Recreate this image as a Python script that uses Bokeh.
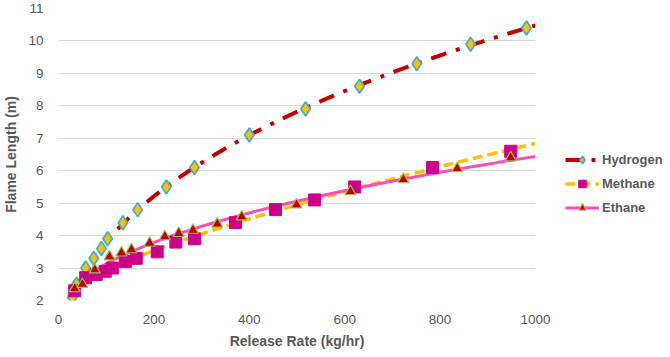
import numpy as np
from bokeh.plotting import figure
from bokeh.models import Legend, LegendItem, FixedTicker
from bokeh.embed import file_html
from bokeh.resources import INLINE

# Data
h_x = [29, 38, 57, 74, 90, 103, 135, 166, 226, 285, 400, 518, 631, 751, 864, 981]
h_y = [2.1, 2.5, 3.0, 3.3, 3.6, 3.9, 4.4, 4.8, 5.5, 6.1, 7.1, 7.9, 8.6, 9.3, 9.9, 10.4]

m_x = [34, 57, 79, 98, 113, 140, 163, 207, 246, 285, 371, 455, 537, 621, 784, 948]
m_y = [2.3, 2.7, 2.8, 2.9, 3.0, 3.2, 3.3, 3.5, 3.8, 3.9, 4.4, 4.8, 5.1, 5.5, 6.1, 6.6]

e_x = [34, 50, 76, 107, 132, 153, 191, 223, 252, 282, 333, 384, 499, 612, 723, 836, 948]
e_y = [2.37, 2.5, 2.95, 3.35, 3.47, 3.57, 3.77, 3.97, 4.07, 4.17, 4.36, 4.58, 4.95, 5.36, 5.73, 6.07, 6.4]

x_ticks = [0, 200, 400, 600, 800, 1000]
y_ticks = [2, 3, 4, 5, 6, 7, 8, 9, 10, 11]
X_MAX = 1000
H_TREND_START = 124   # hydrogen trend curve begins here in the reference


def trend(xs, ys, x_start, x_end, deg=2):
    """Least-squares trend curve: polynomial in sqrt(x)."""
    coef = np.polyfit(np.sqrt(xs), ys, deg)
    xt = np.linspace(x_start, x_end, 300)
    return xt, np.polyval(coef, np.sqrt(xt))


FONT = "Liberation Sans"
GREY = "#595959"

p = figure(frame_width=477, frame_height=292, output_backend="svg",
           toolbar_location=None, x_range=(0, 1000), y_range=(2, 11),
           min_border_left=45, min_border_top=8, min_border_bottom=41,
           min_border_right=132)
p.outline_line_color = None
p.background_fill_color = "white"

hx, hy = trend(h_x, h_y, H_TREND_START, X_MAX)
mx, my = trend(m_x, m_y, min(m_x), X_MAX)
ex, ey = trend(e_x, e_y, min(e_x), X_MAX)

h_line = p.line(hx, hy, line_color="#C00000", line_width=4, line_dash="16 10 4 10")
m_line = p.line(mx, my, line_color="#FFC000", line_width=3.5, line_dash="10 5")
e_line = p.line(ex, ey, line_color="#FF4FB4", line_width=3)

h_sc = p.scatter(h_x, h_y, marker="diamond", size=14, fill_color="#FFC000",
                 line_color="#4BACC6", line_width=1.8)
m_sc = p.scatter(m_x, m_y, marker="square", size=12, fill_color="#CC0088",
                 line_color="#CC0088", line_width=1)
e_sc = p.scatter(e_x, e_y, marker="triangle", size=11, fill_color="#C00000",
                 line_color="#9BBB59", line_width=1.2)

p.xaxis.ticker = FixedTicker(ticks=x_ticks)
p.yaxis.ticker = FixedTicker(ticks=y_ticks)
for ax in (p.xaxis, p.yaxis):
    ax.axis_line_color = None
    ax.major_tick_line_color = None
    ax.minor_tick_line_color = None
    ax.major_label_text_font = FONT
    ax.major_label_text_font_size = "13.5px"
    ax.major_label_text_color = GREY
    ax.axis_label_text_font = FONT
    ax.axis_label_text_font_size = "14px"
    ax.axis_label_text_font_style = "bold"
    ax.axis_label_text_color = GREY

p.xaxis.axis_label = "Release Rate (kg/hr)"
p.yaxis.axis_label = "Flame Length (m)"
p.xaxis.major_label_standoff = 8
p.xaxis.axis_label_standoff = 6
p.yaxis.major_label_standoff = 9
p.yaxis.axis_label_standoff = 6

p.xgrid.grid_line_color = None
p.ygrid.grid_line_color = "#D9D9D9"
p.ygrid.grid_line_width = 1.2

legend = Legend(items=[
    LegendItem(label="Hydrogen", renderers=[h_line, h_sc]),
    LegendItem(label="Methane", renderers=[m_line, m_sc]),
    LegendItem(label="Ethane", renderers=[e_line, e_sc]),
], location=(30, 83))
legend.label_text_font = FONT
legend.label_text_font_size = "13px"
legend.label_text_font_style = "bold"
legend.label_text_color = GREY
legend.border_line_color = None
legend.background_fill_alpha = 0
legend.glyph_width = 34
legend.glyph_height = 19
legend.spacing = 5
legend.padding = 2
legend.margin = 0
legend.label_standoff = 3
p.add_layout(legend, "right")

open("out.html", "w").write(file_html(p, INLINE))
